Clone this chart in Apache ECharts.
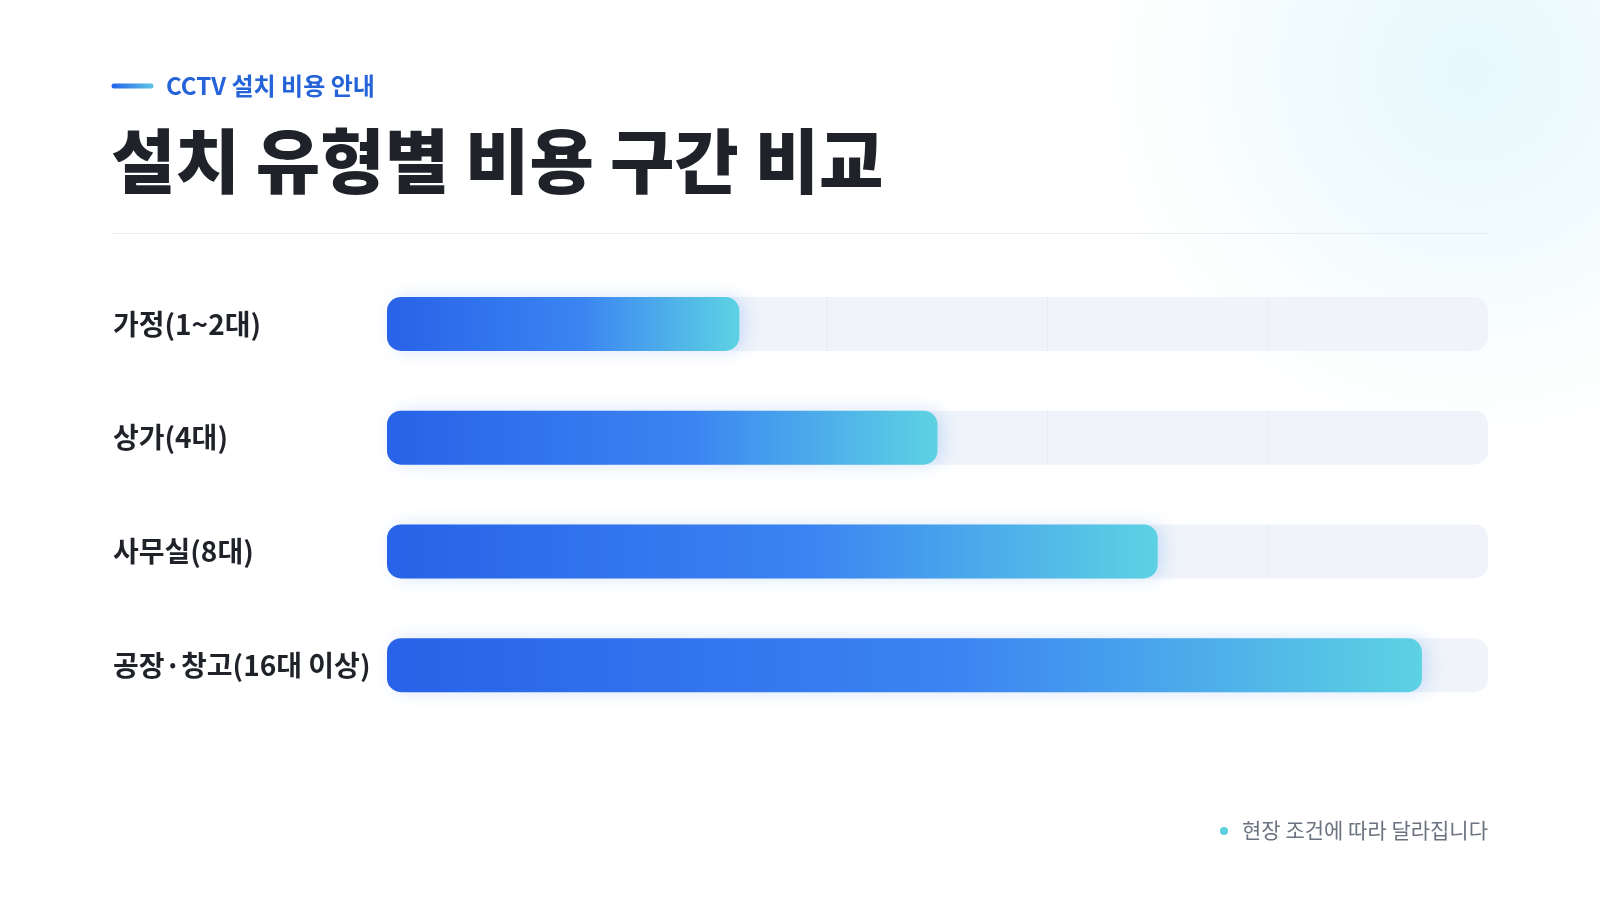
<!DOCTYPE html>
<html>
<head>
<meta charset="utf-8">
<script src="https://cdn.jsdelivr.net/npm/echarts@6/dist/echarts.min.js"></script>
<style>
  html, body { margin: 0; padding: 0; background: #ffffff; }
  #chart { width: 1600px; height: 900px; }
</style>
</head>
<body>
<div id="chart"></div>
<script>
var FONT = '"Noto Sans CJK KR", "Noto Sans", sans-serif'

// 설치 유형
var categories = ['가정(1~2대)', '상가(4대)', '사무실(8대)', '공장·창고(16대 이상)']
// 비용 구간 (트랙 대비 %)
var values = [32, 50, 70, 94]
// 트랙 안의 눈금선 위치
var gridTicks = [20, 40, 60, 80]
var axisMax = 100

var chart = echarts.init(document.getElementById('chart'))

// 트랙(배경 막대) + 안쪽 눈금선
function renderTrack(params, api) {
  var idx = api.value(0)
  var start = api.coord([0, idx])
  var end = api.coord([axisMax, idx])
  var h = 54
  var children = [{
    type: 'rect',
    shape: { x: start[0], y: start[1] - h / 2, width: end[0] - start[0], height: h, r: 14 },
    style: { fill: '#f0f4fa' }
  }]
  gridTicks.forEach(function (t) {
    var p = api.coord([t, idx])
    children.push({
      type: 'line',
      shape: { x1: p[0], y1: start[1] - h / 2, x2: p[0], y2: start[1] + h / 2 },
      style: { stroke: '#e6ebf2', lineWidth: 1 }
    })
  })
  return { type: 'group', children: children }
}

var option = {
  backgroundColor: '#ffffff',
  animation: false,
  grid: {
    left: 387,
    right: 112,
    top: 267,
    bottom: 178
  },
  xAxis: {
    type: 'value',
    min: 0,
    max: axisMax,
    interval: 20,
    show: false
  },
  yAxis: {
    type: 'category',
    data: categories,
    inverse: true,
    axisLine: { show: false },
    axisTick: { show: false },
    splitLine: { show: false },
    axisLabel: {
      align: 'left',
      margin: 274,
      color: '#1f2329',
      fontSize: 28,
      fontWeight: 600,
      fontFamily: FONT
    }
  },
  graphic: [
    // 오른쪽 위 은은한 배경
    {
      type: 'circle',
      z: -10,
      silent: true,
      shape: { cx: 1470, cy: 70, r: 430 },
      style: {
        fill: new echarts.graphic.RadialGradient(0.5, 0.5, 0.5, [
          { offset: 0, color: 'rgba(228,247,252,0.9)' },
          { offset: 0.45, color: 'rgba(234,249,252,0.6)' },
          { offset: 1, color: 'rgba(255,255,255,0)' }
        ])
      }
    },
    {
      type: 'line',
      shape: { x1: 114, y1: 86, x2: 151, y2: 86 },
      style: {
        lineWidth: 5,
        lineCap: 'round',
        stroke: new echarts.graphic.LinearGradient(0, 0, 1, 0, [
          { offset: 0, color: '#2563eb' },
          { offset: 1, color: '#5fc6e6' }
        ])
      }
    },
    {
      type: 'text',
      left: 166,
      top: 74,
      style: {
        text: 'CCTV 설치 비용 안내',
        fill: '#2563d9',
        font: 'bold 24px ' + FONT
      }
    },
    {
      type: 'text',
      left: 111,
      top: 126,
      style: {
        text: '설치 유형별 비용 구간 비교',
        fill: '#1f2329',
        font: '900 70px ' + FONT
      }
    },
    {
      type: 'line',
      shape: { x1: 112, y1: 233.5, x2: 1488, y2: 233.5 },
      style: { stroke: '#e8ebf0', lineWidth: 1 }
    },
    {
      type: 'circle',
      shape: { cx: 1224, cy: 831, r: 4 },
      style: { fill: '#5ccfe2' }
    },
    {
      type: 'text',
      right: 112,
      top: 820,
      style: {
        text: '현장 조건에 따라 달라집니다',
        fill: '#6b7280',
        font: '21px ' + FONT
      }
    }
  ],
  series: [
    {
      type: 'custom',
      renderItem: renderTrack,
      data: categories.map(function (c, i) { return [i] }),
      encode: { y: 0 },
      silent: true,
      z: 1
    },
    {
      type: 'bar',
      data: values,
      barWidth: 54,
      z: 2,
      itemStyle: {
        borderRadius: 14,
        color: new echarts.graphic.LinearGradient(0, 0, 1, 0, [
          { offset: 0, color: '#2862e8' },
          { offset: 0.55, color: '#3b84f2' },
          { offset: 1, color: '#5dd2e3' }
        ]),
        shadowColor: 'rgba(70,140,235,0.22)',
        shadowBlur: 18,
        shadowOffsetX: 6
      }
    }
  ]
}

chart.setOption(option)
</script>
</body>
</html>
